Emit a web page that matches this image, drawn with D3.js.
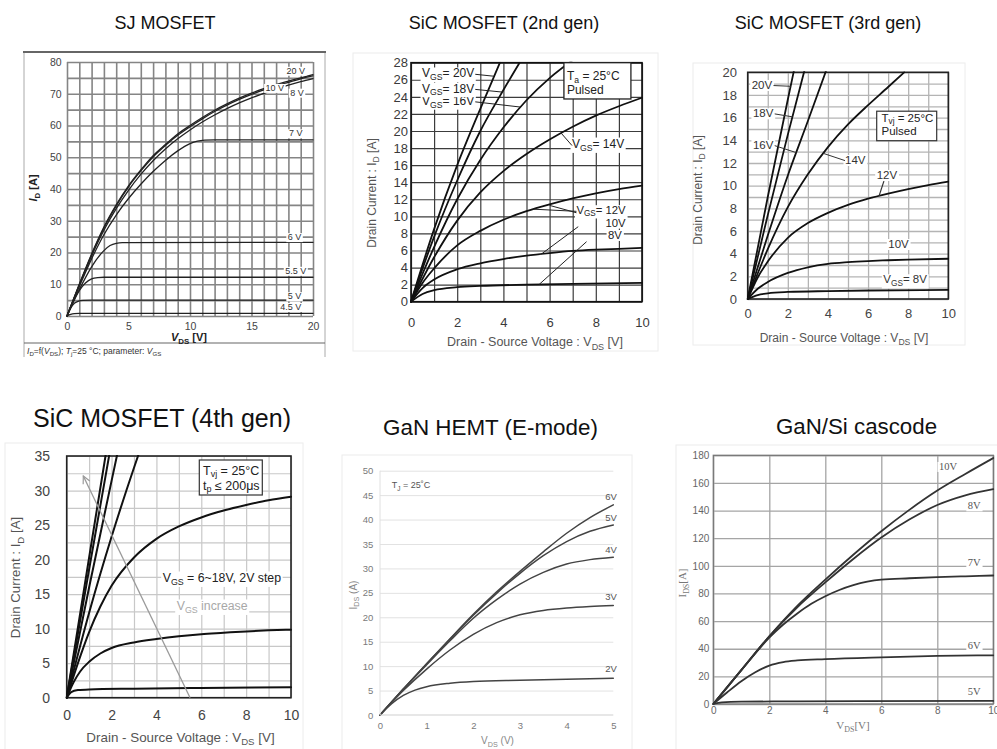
<!DOCTYPE html>
<html><head><meta charset="utf-8">
<script src="https://cdn.jsdelivr.net/npm/d3@7"></script>
<style>body{margin:0;background:#fff}svg{display:block}</style>
</head><body><svg id="c" width="997" height="749"></svg>
<script>
const FONT = '"Liberation Sans", Arial, sans-serif';
const SERIF = '"Liberation Serif", "Times New Roman", serif';

// ---------------- DATA ----------------
const titles = ["SJ MOSFET","SiC MOSFET (2nd gen)","SiC MOSFET (3rd gen)","SiC MOSFET (4th gen)","GaN HEMT (E-mode)","GaN/Si cascode"];

// SJ MOSFET  (VDS [V], ID [A])
const sjVgs = ["20 V","10 V","8 V","7 V","6 V","5.5 V","5 V","4.5 V"];
const sj20 = [[0,0],[1,10],[2,19.5],[3,28],[4,35],[5,41],[6,46],[7,50.5],[8,54],[9,57.3],[10,60],[11,62.5],[12,64.8],[13,66.8],[14,68.6],[15,70.2],[16,71.6],[17,72.9],[18,74],[19,75],[20,76]];
const sj10 = [[0,0],[1,9.9],[2,19.3],[3,27.7],[4,34.7],[5,40.7],[6,45.7],[7,50.1],[8,53.7],[9,56.9],[10,59.6],[11,62.1],[12,64.4],[13,66.4],[14,68.2],[15,69.8],[16,71.2],[17,72.5],[18,73.6],[19,74.7],[20,75.6]];
const sj8  = [[0,0],[1,9.7],[2,18.9],[3,27],[4,33.8],[5,39.6],[6,44.6],[7,48.9],[8,52.6],[9,55.8],[10,58.6],[11,61.1],[12,63.3],[13,65.3],[14,67.1],[15,68.7],[16,70.1],[17,71.5],[18,72.7],[19,73.8],[20,74.8]];
const sj7  = [[0,0],[1,9.3],[2,18],[3,25.6],[4,31.8],[5,37],[6,41.5],[7,45.5],[8,49],[9,52],[10,54.3],[10.6,55.1],[11.2,55.4],[12,55.5],[20,55.5]];
const sj6  = [[0,0],[1,8.3],[2,15.5],[3,20.6],[3.5,22.2],[4,22.9],[4.5,23.1],[20,23.2]];
const sj55 = [[0,0],[0.5,4.6],[1,8],[1.5,10.4],[2,11.7],[2.5,12.1],[3,12.2],[20,12.2]];
const sj5  = [[0,0],[0.3,2.5],[0.6,4],[0.9,4.6],[1.3,4.9],[2,5],[20,5]];
const sj45 = [[0,0],[0.3,0.5],[0.6,0.75],[1,0.85],[20,0.85]];

// SiC 2nd gen
const s2Vgs = ["20V","18V","16V","14V","12V","10V","8V"];
const s2_20 = [[0,0],[1,8.5],[2,16],[3,22.6],[3.85,28]];
const s2_18 = [[0,0],[1,7.6],[2,14.2],[3,20],[4,24.8],[4.7,28]];
const s2_16 = [[0,0],[1,6.4],[2,12],[3,16.6],[4,20.4],[5,23.6],[6,26.2],[7,28.3]];
const s2_14 = [[0,0],[1,5.2],[2,9.5],[3,12.8],[4,15.3],[5,17.3],[6,19],[7,20.5],[8,21.8],[9,22.9],[10,23.9]];
const s2_12 = [[0,0],[0.5,2.2],[1,3.9],[2,6.6],[3,8.3],[4,9.6],[5,10.6],[6,11.4],[7,12.1],[8,12.7],[9,13.2],[10,13.6]];
const s2_10 = [[0,0],[0.5,1.6],[1,2.6],[2,3.8],[3,4.5],[4,5],[5,5.4],[6,5.7],[7,5.95],[8,6.1],[9,6.2],[10,6.3]];
const s2_8  = [[0,0],[0.5,0.9],[1,1.35],[2,1.7],[3,1.85],[5,2],[7,2.1],[10,2.2]];

// SiC 3rd gen
const s3Vgs = ["20V","18V","16V","14V","12V","10V","8V"];
const s3_20 = [[0,0],[1,9],[2,17.6],[2.3,20.1]];
const s3_18 = [[0,0],[1,7.4],[2,14.5],[2.82,20.1]];
const s3_16 = [[0,0],[1,5.6],[2,10.9],[3,15.7],[3.9,20.1]];
const s3_14 = [[0,0],[1,4.4],[2,8.1],[3,11],[4,13.4],[5,15.4],[6,17.1],[7,18.7],[7.8,20]];
const s3_12 = [[0,0],[0.5,1.9],[1,3.3],[2,5.4],[3,6.7],[4,7.6],[5,8.3],[6,8.85],[7,9.3],[8,9.7],[9,10.05],[10,10.35]];
const s3_10 = [[0,0],[0.5,0.9],[1,1.5],[2,2.3],[3,2.8],[4,3.1],[5,3.25],[6,3.35],[7,3.42],[8,3.48],[10,3.55]];
const s3_8  = [[0,0],[0.5,0.35],[1,0.5],[2,0.62],[4,0.7],[6,0.75],[10,0.8]];

// SiC 4th gen (VGS = 6~18 V, 2 V step)
const s4_18 = [[0,0],[1,20.3],[1.74,35.2]];
const s4_16 = [[0,0],[1,18.6],[1.9,35.2]];
const s4_14 = [[0,0],[1,16],[2,31.4],[2.25,35.2]];
const s4_12 = [[0,0],[1,12.3],[2,23.3],[3,33.3],[3.2,35.2]];
const s4_10 = [[0,0],[0.5,5],[1,9.5],[1.5,13.2],[2,16.2],[3,20.3],[4,23],[5,24.8],[6,26.1],[7,27.1],[8,27.9],[9,28.6],[10,29.1]];
const s4_8  = [[0,0],[0.3,2.2],[0.6,3.8],[1,5.2],[1.5,6.4],[2,7.2],[3,8],[4,8.5],[5,8.9],[6,9.2],[7,9.4],[8,9.6],[9,9.75],[10,9.85]];
const s4_6  = [[0,0],[0.2,0.8],[0.5,1.1],[1,1.2],[3,1.3],[6,1.4],[10,1.5]];

// GaN HEMT (E-mode)
const g5Vgs = ["6V","5V","4V","3V","2V"];
const gan6 = [[0,0],[0.5,5.3],[1,10.5],[1.5,15.6],[2,20.6],[2.5,25.2],[3,29.4],[3.5,33.4],[4,37.2],[4.5,40.4],[5,43]];
const gan5 = [[0,0],[0.5,5.3],[1,10.5],[1.5,15.5],[2,20.4],[2.5,24.9],[3,29],[3.5,32.6],[4,35.5],[4.5,37.6],[5,38.9]];
const gan4 = [[0,0],[0.5,5.3],[1,10.3],[1.5,15.2],[2,19.8],[2.5,23.6],[3,26.8],[3.5,29.2],[4,30.9],[4.5,31.8],[5,32.3]];
const gan3 = [[0,0],[0.5,5],[1,9.4],[1.5,13.3],[2,16.5],[2.5,18.9],[3,20.5],[3.5,21.4],[4,21.9],[4.5,22.2],[5,22.4]];
const gan2 = [[0,0],[0.25,2.3],[0.5,4],[0.75,5.1],[1,5.8],[1.5,6.5],[2,6.85],[3,7.1],[4,7.3],[5,7.5]];

// GaN/Si cascode
const c6Vgs = ["10V","8V","7V","6V","5V"];
const cas10 = [[0,0],[1,24.5],[2,49],[3,71],[4,90],[5,108],[6,125],[7,140.5],[8,154.5],[9,166.5],[10,178]];
const cas8  = [[0,0],[1,24.5],[2,49],[3,70],[4,88],[5,105],[6,120.5],[7,133.5],[8,144],[9,151],[10,155.5]];
const cas7  = [[0,0],[1,24.5],[2,48],[2.5,57.5],[3,65.5],[3.5,72.5],[4,78],[4.5,82.5],[5,86],[5.5,88.5],[6,90],[7,91],[8,91.8],[9,92.4],[10,93]];
const cas6  = [[0,0],[0.5,8.5],[1,16.5],[1.5,23],[2,27.8],[2.5,30.3],[3,31.5],[4,32.5],[6,33.8],[8,34.8],[10,35.2]];
const cas5  = [[0,0],[0.3,1.2],[1,1.7],[3,1.9],[10,2.2]];

// ---------------- HELPERS ----------------
const svg = d3.select("#c");
const defs = svg.append("defs");
let clipN = 0;

function at(series, xv) {
  for (let i = 1; i < series.length; i++) {
    const a = series[i-1], b = series[i];
    if (xv <= b[0]) return a[1] + (b[1]-a[1]) * (xv-a[0]) / (b[0]-a[0]);
  }
  return series[series.length-1][1];
}

function rich(g, x, y, parts, o = {}) {
  const fs = o.size || 12;
  const t = g.append("text").attr("x", x).attr("y", y).attr("font-size", fs)
    .attr("fill", o.fill || "#222").attr("text-anchor", o.anchor || "start")
    .attr("font-family", o.family || FONT);
  if (o.weight) t.attr("font-weight", o.weight);
  if (o.transform) t.attr("transform", o.transform);
  let inSub = false;
  const sh = fs * (o.subShift || 0.28);
  parts.forEach(p => {
    const obj = typeof p === "string" ? {t: p} : p;
    const s = t.append("tspan").text(obj.t);
    if (obj.it) s.attr("font-style", "italic");
    if (obj.sub) {
      s.attr("font-size", fs * 0.72);
      if (!inSub) { s.attr("dy", sh); inSub = true; }
    } else if (inSub) { s.attr("dy", -sh); inSub = false; }
  });
  if (o.bg) {
    const b = t.node().getBBox();
    g.insert("rect", () => t.node()).attr("x", b.x - 1.5).attr("y", b.y + 1).attr("width", b.width + 3)
      .attr("height", b.height - 1).attr("fill", "#fff");
  }
  return t;
}

function panel(o) {
  const x = d3.scaleLinear().domain(o.xd).range([o.l, o.r]);
  const y = d3.scaleLinear().domain(o.yd).range([o.b, o.t]);
  const W = o.r - o.l, H = o.b - o.t;
  const g = svg.append("g");
  const id = "cp" + (clipN++);
  defs.append("clipPath").attr("id", id).append("rect")
    .attr("x", o.l - 1).attr("y", o.t - 1).attr("width", W + 2).attr("height", H + 2);
  const styleGrid = s => { s.select(".domain").remove();
    s.selectAll("line").attr("stroke", o.gridC).attr("stroke-width", o.gridW); };
  if (o.xGrid) g.append("g").attr("transform", `translate(0,${o.b})`)
    .call(d3.axisBottom(x).tickValues(o.xGrid).tickSize(-H).tickFormat("")).call(styleGrid);
  if (o.yGrid) g.append("g").attr("transform", `translate(${o.l},0)`)
    .call(d3.axisLeft(y).tickValues(o.yGrid).tickSize(-W).tickFormat("")).call(styleGrid);
  if (o.frameC) g.append("rect").attr("x", o.l).attr("y", o.t).attr("width", W).attr("height", H)
    .attr("fill", "none").attr("stroke", o.frameC).attr("stroke-width", o.frameW);
  const styleTicks = s => { s.select(".domain").remove();
    s.selectAll("text").attr("font-size", o.tickFs).attr("fill", o.tickC)
      .attr("font-family", o.tickFam || FONT).attr("font-weight", o.tickW || "normal"); };
  g.append("g").attr("transform", `translate(0,${o.b})`)
    .call(d3.axisBottom(x).tickValues(o.xTicks).tickSize(0).tickPadding(o.xPad).tickFormat(d3.format("d")))
    .call(styleTicks);
  g.append("g").attr("transform", `translate(${o.l},0)`)
    .call(d3.axisLeft(y).tickValues(o.yTicks).tickSize(0).tickPadding(o.yPad).tickFormat(d3.format("d")))
    .call(styleTicks);
  const line = d3.line().x(d => x(d[0])).y(d => y(d[1])).curve(d3.curveMonotoneX);
  g.append("g").attr("clip-path", `url(#${id})`).selectAll("path").data(o.series).join("path")
    .attr("d", d => line(d)).attr("fill", "none").attr("stroke", o.curveC)
    .attr("stroke-width", o.curveW).attr("stroke-linejoin", "round").attr("stroke-linecap", "round");
  return {x, y, g};
}

function seg(g, x1, y1, x2, y2, c, w) {
  g.append("line").attr("x1", x1).attr("y1", y1).attr("x2", x2).attr("y2", y2)
    .attr("stroke", c).attr("stroke-width", w);
}
function faint(x, y, w, h) {
  svg.append("rect").attr("x", x).attr("y", y).attr("width", w).attr("height", h)
    .attr("fill", "none").attr("stroke", "#ececec").attr("stroke-width", 1);
}
const VGS = (rest) => ["V", {t:"GS", sub:true}, rest];

// ---------------- TITLES ----------------
const titlePos = [[165,28.5,18],[504,28.5,18],[828,28.5,18],[162,426.5,25],[490.5,434.5,22.4],[856.5,434,22.3]];
svg.selectAll("text.title").data(titles).join("text").attr("class", "title")
  .attr("x", (d,i) => titlePos[i][0]).attr("y", (d,i) => titlePos[i][1])
  .attr("font-size", (d,i) => titlePos[i][2]).attr("text-anchor", "middle")
  .attr("font-family", FONT).attr("fill", "#111").text(d => d);

// faint screenshot borders
faint(353, 53, 305, 298);
faint(693, 63, 272, 282);
faint(5, 443, 298, 310);
faint(342, 455, 290, 300);
faint(676, 445, 330, 310);

// ---------------- PANEL 1: SJ MOSFET ----------------
{
  const fr = svg.append("g");
  seg(fr, 24, 357, 24, 52, "#aaa", 1);
  seg(fr, 325, 357, 325, 52, "#aaa", 1);
  seg(fr, 24, 343, 325, 343, "#666", 1.2);
  seg(fr, 23, 52, 326, 52, "#666", 2.2);
  const p = panel({l:67, r:313, t:62, b:316, xd:[0,20], yd:[0,80],
    xGrid: d3.range(0, 21, 1), yGrid: d3.range(0, 81, 5), gridC:"#858585", gridW:1.6,
    xTicks:[0,5,10,15,20], yTicks:d3.range(0,81,10), xPad:6.5, yPad:5.3, tickFs:10.5, tickC:"#444",
    series:[sj20, sj10, sj8, sj7, sj6, sj55, sj5, sj45], curveC:"#222", curveW:1.3});
  const lab = [[18.6,77.3],[16.9,71.9],[18.7,70.4],[18.6,57.6],[18.5,24.9],[18.6,14.3],[18.5,6.3],[18.2,2.9]];
  sjVgs.forEach((t,i) => rich(p.g, p.x(lab[i][0]), p.y(lab[i][1]) + 3.2, [t],
    {size:9, fill:"#333", anchor:"middle", bg:true}));
  rich(p.g, 0, 0, [{t:"I", it:true}, {t:"D", sub:true}, " [A]"],
    {size:11, weight:"bold", anchor:"middle", transform:"translate(37,188) rotate(-90)"});
  rich(p.g, 189, 341, [{t:"V", it:true}, {t:"DS", sub:true}, " [V]"], {size:11, weight:"bold", anchor:"middle"});
  rich(p.g, 27, 354, [{t:"I", it:true},{t:"D",sub:true},"=f(",{t:"V",it:true},{t:"DS",sub:true},"); ",
    {t:"T",it:true},{t:"j",sub:true},"=25 °C; parameter: ",{t:"V",it:true},{t:"GS",sub:true}],
    {size:8.5, fill:"#333"});
}

// ---------------- PANEL 2: SiC 2nd gen ----------------
{
  const ser = [s2_20, s2_18, s2_16, s2_14, s2_12, s2_10, s2_8];
  const p = panel({l:411, r:642, t:62.7, b:301.7, xd:[0,10], yd:[0,28],
    xGrid: d3.range(0, 11, 1), yGrid: d3.range(0, 29, 2), gridC:"#3c3c3c", gridW:1.2,
    frameC:"#111", frameW:1.6,
    xTicks:d3.range(0,11,2), yTicks:d3.range(0,29,2), xPad:15.6, yPad:3, tickFs:13, tickC:"#3a3a3a",
    series: ser, curveC:"#111", curveW:1.8});
  const {x, y, g} = p;
  // box
  g.append("rect").attr("x", x(6.62)).attr("y", y(28)).attr("width", x(9.52)-x(6.62)).attr("height", y(23.75)-y(28))
    .attr("fill", "#fff").attr("stroke", "#222").attr("stroke-width", 1.3);
  rich(g, x(6.75), y(25.95), ["T", {t:"a", sub:true}, " = 25°C"], {size:12, fill:"#222", subShift:0.2});
  rich(g, x(6.75), y(24.3), ["Pulsed"], {size:12, fill:"#222"});
  // left labels with pointers (drawn bottom-up so subscripts stay visible)
  const leftLab = [[23.04, 4.75, 2], [24.5, 3.95, 1], [26.27, 3.6, 0]];
  leftLab.forEach(([ly, px, si]) => {
    const t = rich(g, x(0.48), y(ly), VGS("= " + s2Vgs[si]), {size:12, fill:"#222", bg:true, subShift:0.22});
    const b = t.node().getBBox();
    seg(g, b.x + b.width + 1, b.y + b.height*0.5, x(px), y(at(ser[si], px)), "#222", 1);
  });
  // 14V
  const t14 = rich(g, x(6.97), y(18.06), VGS("= 14V"), {size:12, fill:"#222", bg:true});
  const b14 = t14.node().getBBox();
  seg(g, x(6.5), y(at(s2_14, 6.5)), b14.x, b14.y + b14.height*0.55, "#222", 1);
  // 12V / 10V / 8V group (top-down so each lower label stays whole)
  const t12 = rich(g, x(9.29), y(10.25), VGS("= 12V"), {size:11.3, fill:"#222", anchor:"end", bg:true, subShift:0.2});
  rich(g, x(9.29), y(8.8), ["10V"], {size:11.3, fill:"#222", anchor:"end", bg:true});
  rich(g, x(9.13), y(7.35), ["8V"], {size:11.3, fill:"#222", anchor:"end", bg:true});
  const b12 = t12.node().getBBox();
  seg(g, b12.x, b12.y + b12.height*0.5, x(5.3), y(at(s2_12, 5.3)), "#222", 1);
  seg(g, b12.x, b12.y + b12.height*0.6, x(6.0), y(at(s2_12, 6.0)) + 1, "#222", 1);
  seg(g, x(7.24), y(8.79), x(5.65), y(at(s2_10, 5.65)), "#222", 1);
  seg(g, x(7.6), y(7.03), x(5.55), y(at(s2_8, 5.55)), "#222", 1);
  rich(g, 0, 0, ["Drain Current : I", {t:"D", sub:true}, " [A]"],
    {size:12, fill:"#555", anchor:"middle", transform:"translate(376,193) rotate(-90)"});
  rich(g, 535, 346, ["Drain - Source Voltage : V", {t:"DS", sub:true}, " [V]"], {size:12.5, fill:"#555", anchor:"middle"});
}

// ---------------- PANEL 3: SiC 3rd gen ----------------
{
  const ser = [s3_20, s3_18, s3_16, s3_14, s3_12, s3_10, s3_8];
  const p = panel({l:747.7, r:948.3, t:72.3, b:299, xd:[0,10], yd:[0,20],
    xGrid: d3.range(0, 11, 1), yGrid: d3.range(0, 21, 1), gridC:"#b4b4b4", gridW:1.3,
    frameC:"#222", frameW:1.6,
    xTicks:d3.range(0,11,2), yTicks:d3.range(0,21,2), xPad:9.8, yPad:10.7, tickFs:13, tickC:"#444",
    series: ser, curveC:"#111", curveW:1.8});
  const {x, y, g} = p;
  g.append("rect").attr("x", 876.7).attr("y", 111.2).attr("width", 60).attr("height", 29.5)
    .attr("fill", "#fff").attr("stroke", "#333").attr("stroke-width", 1.2);
  rich(g, 881.5, 121.5, ["T", {t:"vj", sub:true}, " = 25°C"], {size:11.5, fill:"#222", subShift:0.2});
  rich(g, 881.5, 134.5, ["Pulsed"], {size:11.5, fill:"#222"});
  const lp = [[0.2,18.53,2.14],[0.26,16.03,2.23],[0.26,13.23,2.42]];
  lp.forEach(([lx, ly, px], i) => {
    const t = rich(g, x(lx), y(ly), [s3Vgs[i]], {size:11.5, fill:"#333", bg:true});
    const b = t.node().getBBox();
    seg(g, b.x + b.width + 1, b.y + b.height*0.55, x(px), y(at(ser[i], px)), "#333", 1);
  });
  const t14 = rich(g, x(4.85), y(11.91), ["14V"], {size:11.5, fill:"#333", bg:true});
  const b14 = t14.node().getBBox();
  seg(g, x(3.77), y(at(s3_14, 3.77)), b14.x, b14.y + b14.height*0.55, "#333", 1);
  rich(g, x(6.43), y(10.59), ["12V"], {size:11.5, fill:"#333", bg:true});
  seg(g, x(6.79), y(10.4), x(6.55), y(at(s3_12, 6.55)), "#333", 1.2);
  rich(g, x(7.01), y(4.5), ["10V"], {size:11.5, fill:"#333", bg:true});
  rich(g, x(6.76), y(1.39), VGS("= 8V"), {size:11.5, fill:"#333", bg:true});
  rich(g, 0, 0, ["Drain Current : I", {t:"D", sub:true}, " [A]"],
    {size:12, fill:"#555", anchor:"middle", transform:"translate(702,190) rotate(-90)"});
  rich(g, 844, 342, ["Drain - Source Voltage : V", {t:"DS", sub:true}, " [V]"], {size:12, fill:"#555", anchor:"middle"});
}

// ---------------- PANEL 4: SiC 4th gen ----------------
{
  const p = panel({l:66.7, r:291, t:456, b:697.7, xd:[0,10], yd:[0,35],
    xGrid: d3.range(0, 11, 1), yGrid: d3.range(0, 35.1, 2.5), gridC:"#c8c8c8", gridW:1.2,
    frameC:"#222", frameW:1.6,
    xTicks:d3.range(0,11,2), yTicks:d3.range(0,36,5), xPad:12.4, yPad:16.7, tickFs:14, tickC:"#444",
    series:[s4_18, s4_16, s4_14, s4_12, s4_10, s4_8, s4_6], curveC:"#111", curveW:2});
  const {x, y, g} = p;
  defs.append("marker").attr("id", "arr").attr("viewBox", "0 0 10 10").attr("refX", 9).attr("refY", 5)
    .attr("markerWidth", 7).attr("markerHeight", 7).attr("orient", "auto")
    .append("path").attr("d", "M1,1 L9,5 L1,9").attr("fill", "none").attr("stroke", "#9a9a9a").attr("stroke-width", 1.3);
  g.append("line").attr("x1", x(5.5)).attr("y1", y(0)).attr("x2", x(0.74)).attr("y2", y(32.1))
    .attr("stroke", "#9a9a9a").attr("stroke-width", 1.3).attr("marker-end", "url(#arr)");
  g.append("rect").attr("x", 199.3).attr("y", 460).attr("width", 63).attr("height", 35)
    .attr("fill", "#fff").attr("stroke", "#333").attr("stroke-width", 1.2);
  rich(g, 203, 475, ["T", {t:"vj", sub:true}, " = 25°C"], {size:12.5, fill:"#222", subShift:0.18});
  rich(g, 203, 490, ["t", {t:"p", sub:true}, " ≤ 200μs"], {size:12.5, fill:"#222", subShift:0.18});
  rich(g, 162.7, 581.5, ["V", {t:"GS", sub:true}, " = 6~18V, 2V step"], {size:12.3, fill:"#222", bg:true});
  rich(g, 176.7, 609.5, ["V", {t:"GS", sub:true}, " increase"], {size:12.3, fill:"#a8a8a8", bg:true});
  rich(g, 0, 0, ["Drain Current : I", {t:"D", sub:true}, " [A]"],
    {size:13.3, fill:"#555", anchor:"middle", transform:"translate(20,577.5) rotate(-90)"});
  rich(g, 180.5, 742, ["Drain - Source Voltage : V", {t:"DS", sub:true}, " [V]"], {size:13.4, fill:"#555", anchor:"middle", subShift:0.2});
}

// ---------------- PANEL 5: GaN HEMT ----------------
{
  const ser = [gan6, gan5, gan4, gan3, gan2];
  const p = panel({l:380, r:613.3, t:470.7, b:715, xd:[0,5], yd:[0,50],
    yGrid: d3.range(5, 51, 5), gridC:"#e2e2e2", gridW:1,
    xTicks:d3.range(0,6,1), yTicks:d3.range(0,51,5), xPad:6.8, yPad:6.7, tickFs:9.5, tickC:"#7a7a7a",
    series: ser, curveC:"#444", curveW:1.5});
  const {x, y, g} = p;
  seg(g, 380, 715, 613.3, 715, "#cfcfcf", 1);
  seg(g, 380, 715, 380, 470.7, "#e0e0e0", 1);
  const ly = [44, 39.7, 33.2, 23.5, 8.9];
  g5Vgs.forEach((t,i) => rich(g, x(4.95), y(ly[i]), [t], {size:9.5, fill:"#555", anchor:"middle"}));
  rich(g, 391.7, 488, ["T", {t:"J", sub:true}, " = 25˚C"], {size:9, fill:"#555"});
  rich(g, 0, 0, ["I", {t:"DS", sub:true}, " (A)"],
    {size:10, fill:"#888", anchor:"middle", transform:"translate(356.5,595) rotate(-90)"});
  rich(g, 497.5, 744, ["V", {t:"DS", sub:true}, " (V)"], {size:10, fill:"#888", anchor:"middle"});
}

// ---------------- PANEL 6: GaN/Si cascode ----------------
{
  const ser = [cas10, cas8, cas7, cas6, cas5];
  const p = panel({l:713.3, r:993.3, t:455.3, b:704, xd:[0,10], yd:[0,180],
    xGrid: d3.range(0, 11, 2), yGrid: d3.range(0, 181, 20), gridC:"#a5a5a5", gridW:1.3,
    frameC:"#777", frameW:1.3,
    xTicks:d3.range(0,11,2), yTicks:d3.range(0,181,20), xPad:2.9, yPad:4, tickFs:10, tickC:"#666",
    series: ser, curveC:"#333", curveW:1.8});
  const {x, y, g} = p;
  const lp = [[8.06,169.4],[9.09,140.9],[9.09,99.9],[9.09,40],[9.09,6.7]];
  c6Vgs.forEach((t,i) => rich(g, x(lp[i][0]), y(lp[i][1]), [t],
    {size:10.5, fill:"#555", family:SERIF, bg:true}));
  rich(g, 0, 0, ["I", {t:"DS", sub:true}, "[A]"],
    {size:11, fill:"#777", family:SERIF, anchor:"middle", transform:"translate(686,583) rotate(-90)"});
  rich(g, 853, 729, ["V", {t:"DS", sub:true}, "[V]"], {size:11, fill:"#777", family:SERIF, anchor:"middle"});
}
</script></body></html>
